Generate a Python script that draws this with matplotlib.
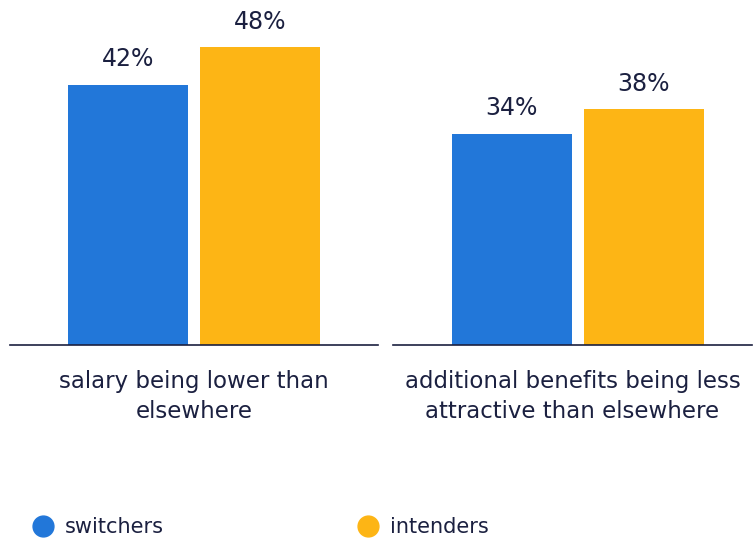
import matplotlib.pyplot as plt
from matplotlib.lines import Line2D

# data
categories = ['salary being lower than\nelsewhere',
              'additional benefits being less\nattractive than elsewhere']
series_names = ['switchers', 'intenders']
switchers = [42, 34]
intenders = [48, 38]

blue = '#2277d9'
orange = '#fdb515'
navy = '#1b2040'

plt.rcParams['font.family'] = ['DejaVu Sans']

fig = plt.figure(figsize=(7.54, 5.41), dpi=100)
W, H = 754, 541
base_y = 345  # pixel row of the baseline
px_per_unit = 132.0

# (left px, right px, centre of first bar px) for each group panel
panels = [(10, 378, 128), (393, 752, 511.5)]

for i, (x0, x1, c0) in enumerate(panels):
    ax = fig.add_axes([x0 / W, (H - base_y) / H, (x1 - x0) / W, base_y / H])
    vals = [switchers[i], intenders[i]]
    bars = ax.bar([0, 1], vals, width=120 / px_per_unit, color=[blue, orange])
    for b, v in zip(bars, vals):
        ax.annotate(f'{v}%', (b.get_x() + b.get_width() / 2, v),
                    xytext=(0, 10), textcoords='offset points',
                    ha='center', va='bottom', fontsize=17, color=navy)
    ax.set_xlim((x0 - c0) / px_per_unit, (x1 - c0) / px_per_unit)
    ax.set_ylim(0, base_y / 6.2)
    for s in ['top', 'right', 'left']:
        ax.spines[s].set_visible(False)
    ax.spines['bottom'].set_color(navy)
    ax.spines['bottom'].set_linewidth(1.2)
    ax.set_yticks([])
    ax.set_xticks([])
    fig.text((x0 + x1) / 2 / W, 1 - 370 / H, categories[i], ha='center', va='top',
             fontsize=16.5, color=navy, linespacing=1.4)

# legend, one entry per placement
legend_x = [33, 358]
for name, col, lx in zip(series_names, [blue, orange], legend_x):
    h = Line2D([], [], marker='o', linestyle='', markersize=15, color=col)
    leg = fig.legend([h], [name], loc='center left',
                     bbox_to_anchor=(lx / W, 1 - 527 / H), frameon=False,
                     fontsize=15, handletextpad=0.55, handlelength=1.0,
                     borderpad=0, borderaxespad=0)
    for t in leg.get_texts():
        t.set_color(navy)

fig.savefig('out.png', dpi=100)
